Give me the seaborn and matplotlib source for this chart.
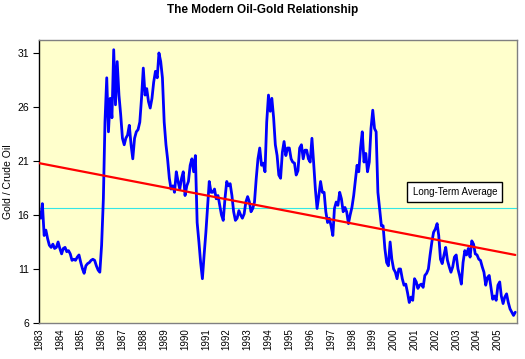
import numpy as np
import pandas as pd
import matplotlib
matplotlib.use("Agg")
import matplotlib.pyplot as plt
import matplotlib.dates as mdates
import seaborn as sns

# gold / crude oil ratio, monthly from Jan 1983
ratio = [
    16.3, 15.7, 17.05, 14.1, 14.6, 13.8, 13.2, 13.0, 13.3, 12.9, 13.0, 13.5,
    12.9, 12.4, 12.9, 13.0, 12.6, 12.7, 12.4, 11.8, 11.9, 11.8, 12.1, 12.3,
    11.6, 11.0, 10.6, 11.3, 11.5, 11.6, 11.8, 11.9, 11.8, 11.3, 10.9, 10.7,
    13.2, 17.5, 24.6, 28.7, 23.7, 26.8, 25.0, 31.3, 26.2, 30.2, 27.1, 25.3,
    23.1, 22.5, 23.1, 23.4, 24.3, 22.5, 21.2, 23.1, 23.7, 23.9, 24.6, 26.8,
    29.6, 27.1, 27.7, 26.5, 25.9, 26.8, 28.3, 29.3, 28.7, 31.0, 30.2, 28.7,
    24.6, 22.5, 21.2, 19.4, 18.4, 18.7, 18.1, 20.0, 19.1, 18.4, 19.4, 20.0,
    17.8, 18.7, 19.1, 20.6, 21.2, 20.0, 21.5, 15.3, 13.5, 11.6, 10.1, 12.3,
    14.4, 16.9, 19.1, 18.1, 18.1, 18.4, 17.5, 17.8, 16.9, 16.0, 15.5, 17.5,
    19.1, 18.7, 18.9, 17.8, 16.3, 15.5, 15.7, 16.4, 16.0, 15.7, 16.1, 17.2,
    17.7, 17.2, 16.3, 16.6, 17.2, 19.4, 21.2, 22.2, 20.6, 20.8, 20.0, 24.6,
    27.1, 25.6, 26.8, 25.0, 22.5, 21.5, 19.7, 19.4, 21.8, 22.8, 21.5, 22.2,
    22.2, 21.2, 20.9, 20.8, 19.7, 20.1, 22.2, 22.5, 21.2, 22.0, 22.0, 21.2,
    20.9, 23.1, 20.9, 18.4, 16.6, 17.8, 19.1, 18.1, 18.1, 16.3, 15.3, 15.7,
    15.0, 14.1, 16.6, 17.2, 16.9, 18.1, 17.5, 16.3, 16.7, 16.3, 15.2, 16.0,
    16.7, 17.8, 19.1, 20.6, 20.0, 22.2, 23.7, 20.9, 21.7, 20.0, 20.9, 24.0,
    25.7, 24.0, 23.7, 18.1, 16.6, 15.0, 15.0, 12.9, 11.6, 11.3, 13.5, 11.9,
    11.0, 10.7, 10.1, 11.0, 11.0, 10.1, 9.5, 9.6, 8.8, 7.9, 8.4, 8.1,
    10.1, 9.8, 9.2, 9.5, 9.6, 9.3, 10.4, 10.6, 11.0, 12.3, 13.5, 14.4,
    14.7, 15.2, 14.1, 11.9, 11.5, 12.3, 13.0, 11.8, 11.2, 10.7, 11.2, 12.1,
    12.3, 11.0, 10.4, 9.6, 11.6, 12.7, 12.3, 12.9, 12.1, 13.6, 13.3, 12.4,
    12.3, 11.9, 11.8, 11.2, 10.7, 9.5, 10.2, 10.4, 9.3, 8.2, 8.5, 8.1,
    9.5, 9.8, 8.5, 7.8, 8.4, 8.7, 7.9, 7.3, 7.0, 6.7, 7.0,
]
dates = pd.date_range("1983-01-01", periods=len(ratio), freq="MS")

long_term_avg = 16.65
trend_start, trend_end = 20.8, 12.3
year_ticks = list(range(1983, 2006))
y_ticks = [6, 11, 16, 21, 26, 31]

df = pd.DataFrame({"date": dates, "ratio": ratio})
trend = pd.DataFrame({"date": [dates[0], dates[-1]],
                      "value": [trend_start, trend_end]})

sns.set_style("ticks")
plt.rcParams["font.family"] = ["Liberation Sans", "DejaVu Sans"]
plt.rcParams["text.color"] = "black"
plt.rcParams["axes.labelcolor"] = "black"
plt.rcParams["xtick.color"] = "black"
plt.rcParams["ytick.color"] = "black"

fig = plt.figure(figsize=(5.25, 3.59), dpi=100)
ax = fig.add_axes([0.0743, 0.1003, 0.9105, 0.7883])
ax.set_facecolor("#FFFFCC")

ax.axhline(long_term_avg, color="#33E6E6", lw=0.8, zorder=1)
sns.lineplot(data=df, x="date", y="ratio", color="#0000FF", lw=2.0, ax=ax, zorder=2)
sns.lineplot(data=trend, x="date", y="value", color="#FF0000", lw=1.6, ax=ax, zorder=3)

ax.set_xlim(pd.Timestamp("1983-01-01"), pd.Timestamp("2005-12-01"))
ax.set_ylim(6, 32.2)
ax.set_yticks(y_ticks)
ax.set_xticks([pd.Timestamp(f"{y}-01-01") for y in year_ticks])
ax.xaxis.set_major_formatter(mdates.DateFormatter("%Y"))
ax.tick_params(axis="x", labelsize=7, rotation=90, length=0, pad=4)
ax.tick_params(axis="y", labelsize=7.5, length=4, width=0.8, pad=3)

ax.set_xlabel("")
ax.set_ylabel("Gold / Crude Oil", fontsize=7.5, labelpad=3)

for side in ["top", "right", "bottom"]:
    ax.spines[side].set_color("#808080")
    ax.spines[side].set_linewidth(1)
ax.spines["left"].set_color("black")
ax.spines["left"].set_linewidth(1)

ax.text(0.87, 0.463, "Long-Term Average", transform=ax.transAxes,
        ha="center", va="center", fontsize=7,
        bbox=dict(boxstyle="square,pad=0.55", fc="white", ec="black", lw=1))

fig.suptitle("The Modern Oil-Gold Relationship", x=0.5, y=0.99,
             fontsize=8.5, fontweight="bold")

fig.savefig("out.png", dpi=100)
